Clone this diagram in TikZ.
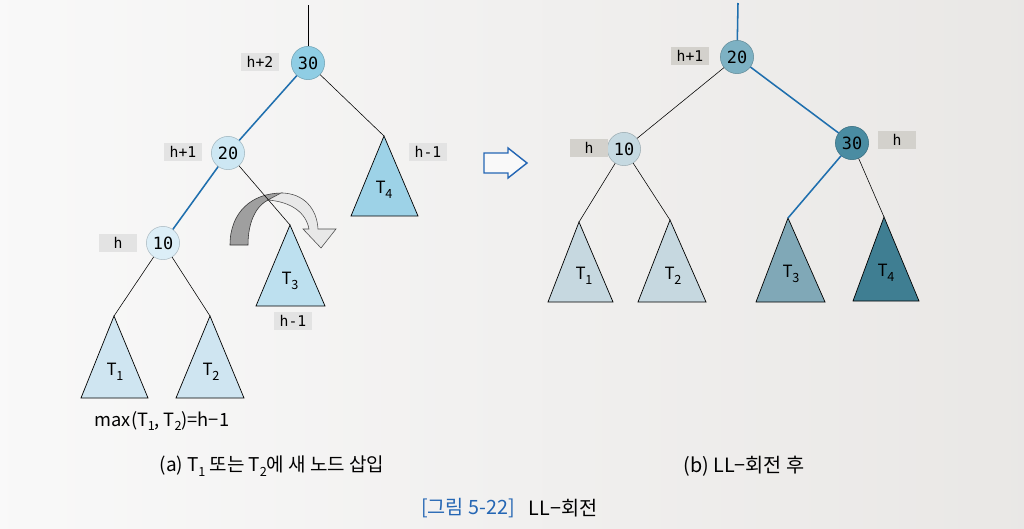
\documentclass[tikz,border=0pt]{standalone}
\usepackage{fontspec}
\setmainfont{Noto Sans CJK KR}
\newfontfamily\keyfont{DejaVu Sans Mono}
\usetikzlibrary{positioning}
\definecolor{edgeblue}{HTML}{1F6FAE}
\definecolor{capblue}{HTML}{2466B4}
\definecolor{boxgray}{HTML}{E3E3E3}
\definecolor{boxgrayR}{HTML}{D3D1CC}
% left tree
\definecolor{keyA}{HTML}{8FCDE4}
\definecolor{keyB}{HTML}{CDE7F3}
\definecolor{keyC}{HTML}{DCEEF7}
\definecolor{subA}{HTML}{CFE5F1}
\definecolor{subB}{HTML}{BDE0EF}
\definecolor{subC}{HTML}{9DD2E7}
% right tree
\definecolor{rkeyA}{HTML}{7DB1C3}
\definecolor{rkeyB}{HTML}{C5D9E1}
\definecolor{rkeyC}{HTML}{4A8CA2}
\definecolor{rsubA}{HTML}{C6D8E0}
\definecolor{rsubB}{HTML}{80A8B7}
\definecolor{rsubC}{HTML}{3F7E92}
\newcommand\tsub[1]{T\kern-0.3pt\raisebox{-0.5ex}{\fontsize{9}{9}\selectfont#1}}
\tikzset{
key/.style={circle, draw=#1!80!black, fill=#1, minimum size=0.83cm, inner sep=0pt, line width=0.4pt, font=\keyfont\fontsize{12}{12}\selectfont}, % keys of the tree
hgt/.style={fill=#1, minimum width=0.95cm, minimum height=0.46cm, inner sep=0pt, font=\keyfont\fontsize{10.5}{10.5}\selectfont}, % height labels
tri/.style={draw=black, line width=0.5pt, fill=#1}, % subtrees
tname/.style={font=\fontsize{12}{12}\selectfont}, % subtree names
thin edge/.style={draw=black, line width=0.4pt},
hot edge/.style={draw=edgeblue, line width=1.1pt},
}
\begin{document}
\begin{tikzpicture}[x=0.025cm, y=-0.025cm]
\useasboundingbox (0,0) rectangle (1024,528);
\shade[left color=white!95!gray, middle color=white!91!gray, right color=white!84!gray!97!brown] (0,0) rectangle (1024,528);

% (a) before the rotation
\coordinate (top) at (308,5);
\node[key=keyA] (n30) at (308,63) {30};
\node[key=keyB] (n20) at (228,153) {20};
\node[key=keyC] (n10) at (163,243) {10};
\node[hgt=boxgray] (h30) at (260,62) {h+2};
\node[hgt=boxgray] (h20) at (183,152) {h+1};
\node[hgt=boxgray] (h10) at (118,243) {h};

\coordinate (t1) at (114,316);
\coordinate (t2) at (210,316);
\coordinate (t3) at (290,225);
\coordinate (t4) at (384,136);
\draw[tri=subA] (t1) -- ++(-33,82) -- ++(67,0) -- cycle;
\draw[tri=subA] (t2) -- ++(-34,82) -- ++(68,0) -- cycle;
\draw[tri=subB] (t3) -- ++(-34,81) -- ++(69,0) -- cycle;
\draw[tri=subC] (t4) -- ++(-33,80) -- ++(67,0) -- cycle;
\node[tname] at (115,372) {\tsub1};
\node[tname] at (211,372) {\tsub2};
\node[tname] at (290,281) {\tsub3};
\node[tname] at (384,190) {\tsub4};
\node[hgt=boxgray] (h3) at (293,321) {h-1};
\node[hgt=boxgray] (h4) at (428,152) {h-1};

% the turn
\filldraw[fill=gray!75, draw=black!80, line width=0.4pt] (230,245) .. controls (230,212) and (252,193) .. (282,193) -- (268,200) .. controls (256,206) and (248,222) .. (248,245) -- cycle;
\filldraw[fill=gray!18, draw=black!70, line width=0.4pt] (281,193) .. controls (304,193) and (317,209) .. (318,229) -- (336,229) -- (321,248) -- (303,229) -- (309,229) .. controls (306,213) and (292,202) .. (268,200) -- cycle;

\draw[thin edge] (top) -- (n30);
\draw[hot edge] (n30) -- (n20);
\draw[hot edge] (n20) -- (n10);
\draw[thin edge] (n30) -- (t4);
\draw[thin edge] (n20) -- (t3);
\draw[thin edge] (n10) -- (t1);
\draw[thin edge] (n10) -- (t2);

\node[font=\fontsize{13}{13}\selectfont] (maxh) at (162,421) {max(\tsub1, \tsub2)=h−1};
\node[font=\fontsize{13.5}{13.5}\selectfont] (capa) at (272,466) {(a) \tsub1 또는 \tsub2에 새 노드 삽입};

% hollow arrow
\draw[draw=capblue, line width=1pt, fill=white!95!gray] (484,153) -- (508,153) -- (508,148) -- (527,163) -- (508,178) -- (508,173) -- (484,173) -- cycle;

% (b) after the rotation
\coordinate (rtop) at (738,3);
\node[key=rkeyA] (r20) at (737,57) {20};
\node[key=rkeyB] (r10) at (624,149) {10};
\node[key=rkeyC] (r30) at (852,143) {30};
\node[hgt=boxgrayR] (hr20) at (690,56) {h+1};
\node[hgt=boxgrayR] (hr10) at (589,148) {h};
\node[hgt=boxgrayR] (hr30) at (897,140) {h};

\coordinate (rt1) at (579,222);
\coordinate (rt2) at (670,220);
\coordinate (rt3) at (788,218);
\coordinate (rt4) at (884,217);
\draw[tri=rsubA] (rt1) -- ++(-31,80) -- ++(65,0) -- cycle;
\draw[tri=rsubA] (rt2) -- ++(-32,82) -- ++(68,0) -- cycle;
\draw[tri=rsubB] (rt3) -- ++(-32,84) -- ++(69,0) -- cycle;
\draw[tri=rsubC] (rt4) -- ++(-31,84) -- ++(66,0) -- cycle;
\node[tname] at (584,276) {\tsub1};
\node[tname] at (673,276) {\tsub2};
\node[tname] at (791,274) {\tsub3};
\node[tname] at (886,273) {\tsub4};

\draw[hot edge] (rtop) -- (r20);
\draw[thin edge] (r20) -- (r10);
\draw[hot edge] (r20) -- (r30);
\draw[thin edge] (r10) -- (rt1);
\draw[thin edge] (r10) -- (rt2);
\draw[hot edge] (r30) -- (rt3);
\draw[thin edge] (r30) -- (rt4);

\node[font=\fontsize{14}{14}\selectfont] (capb) at (744,466) {(b) LL−회전 후};
\node[font=\fontsize{14}{14}\selectfont, text=capblue] (fig) at (468,508) {[그림 5-22]};
\node[font=\fontsize{14}{14}\selectfont, right=0.1cm of fig] (figname) {LL−회전};
\end{tikzpicture}
\end{document}
